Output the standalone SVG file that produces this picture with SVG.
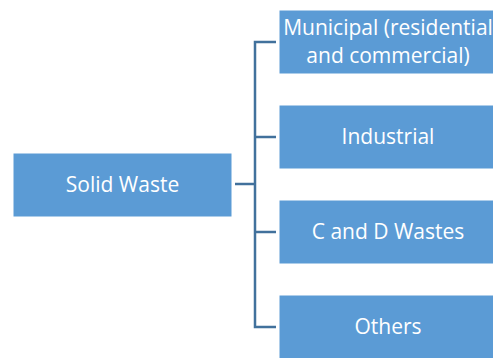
<svg xmlns="http://www.w3.org/2000/svg" width="493" height="358" viewBox="0 0 493 358">
<style>
.box{fill:#5B9BD5;stroke:#FFFFFF;stroke-width:1}
.t{font-family:"Open Sans","Liberation Sans",sans-serif;font-size:21px;fill:#FFFFFF;text-anchor:middle}
.c{fill:none;stroke:#41719C;stroke-width:2.5}
</style>
<rect width="493" height="358" fill="#FFFFFF"/>
<g id="connectors">
<path class="c" d="M235 184 H255"/>
<path class="c" d="M276 42 H255 V327 H276"/>
<path class="c" d="M255 137 H276"/>
<path class="c" d="M255 232 H276"/>
</g>
<g id="solid-waste">
<rect class="box" x="13" y="153" width="219" height="64"/>
<text class="t" x="122.5" y="192">Solid Waste</text>
</g>
<g id="municipal">
<rect class="box" x="279" y="10" width="218" height="64"/>
<text class="t" x="388" y="35">Municipal (residential</text>
<text class="t" x="388" y="63">and commercial)</text>
</g>
<g id="industrial">
<rect class="box" x="279" y="105" width="218" height="64"/>
<text class="t" x="388" y="144">Industrial</text>
</g>
<g id="cd-wastes">
<rect class="box" x="279" y="200" width="218" height="64"/>
<text class="t" x="388" y="239">C and D Wastes</text>
</g>
<g id="others">
<rect class="box" x="279" y="295" width="218" height="64"/>
<text class="t" x="388" y="334">Others</text>
</g>
</svg>
